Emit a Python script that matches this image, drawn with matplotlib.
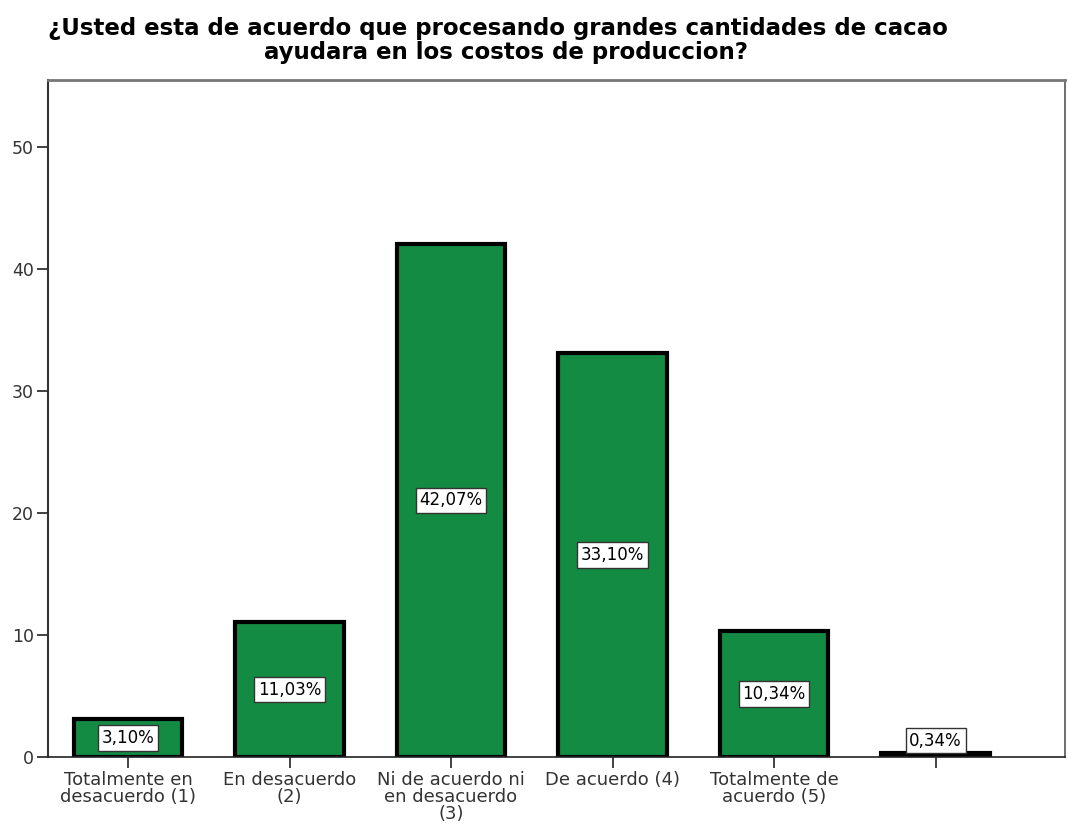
import matplotlib.pyplot as plt
import numpy as np

categories = ["Totalmente en\ndesacuerdo (1)", "En desacuerdo\n(2)",
              "Ni de acuerdo ni\nen desacuerdo\n(3)", "De acuerdo (4)",
              "Totalmente de\nacuerdo (5)", ""]
percent = [3.10, 11.03, 42.07, 33.10, 10.34, 0.34]
bar_colors = ["#138B43"] * 5 + ["#000000"]
title_lines = ["¿Usted esta de acuerdo que procesando grandes cantidades de cacao",
               "ayudara en los costos de produccion?"]

plt.rcParams['font.family'] = ['DejaVu Sans']

fig = plt.figure(figsize=(10.68, 8.25), dpi=100)
ax = fig.add_axes([0.045, 0.0824, 0.952, 0.8206])

x = np.arange(len(categories))
ax.bar(x, percent, width=0.67, color=bar_colors, edgecolor="black", linewidth=3, zorder=2)

for xi, v in zip(x, percent):
    # small bars get the label just above, the rest in the middle
    y = v / 2 if v > 2 else v + 1.0
    ax.text(xi, y, f"{v:.2f}%".replace(".", ","), ha="center", va="center", fontsize=12,
            bbox=dict(boxstyle="square,pad=0.22", facecolor="white", edgecolor="#333333", linewidth=1),
            zorder=3)

ax.set_xlim(-0.495, 5.8)
ax.set_ylim(0, 55.5)
ax.set_yticks([0, 10, 20, 30, 40, 50])
ax.set_xticks(x)
ax.set_xticklabels(categories, fontsize=13, linespacing=0.92, color="#222222")
ax.tick_params(axis="y", length=8, width=1.3, labelsize=12.5, direction="out", colors="#333333", pad=2)
ax.tick_params(axis="x", length=8, width=1.3, direction="out", pad=2, colors="#333333")

ax.spines["left"].set_color("#333333")
ax.spines["left"].set_linewidth(1.5)
ax.spines["bottom"].set_color("#222222")
ax.spines["bottom"].set_linewidth(1.2)
ax.spines["top"].set_color("#777777")
ax.spines["top"].set_linewidth(2)
ax.spines["right"].set_color("#555555")
ax.spines["right"].set_linewidth(1.2)

fig.text(0.466, 0.957, title_lines[0], ha="center", va="baseline", fontsize=16.5, fontweight="bold")
fig.text(0.474, 0.928, title_lines[1], ha="center", va="baseline", fontsize=16.5, fontweight="bold")

fig.savefig("out.png", dpi=100)
